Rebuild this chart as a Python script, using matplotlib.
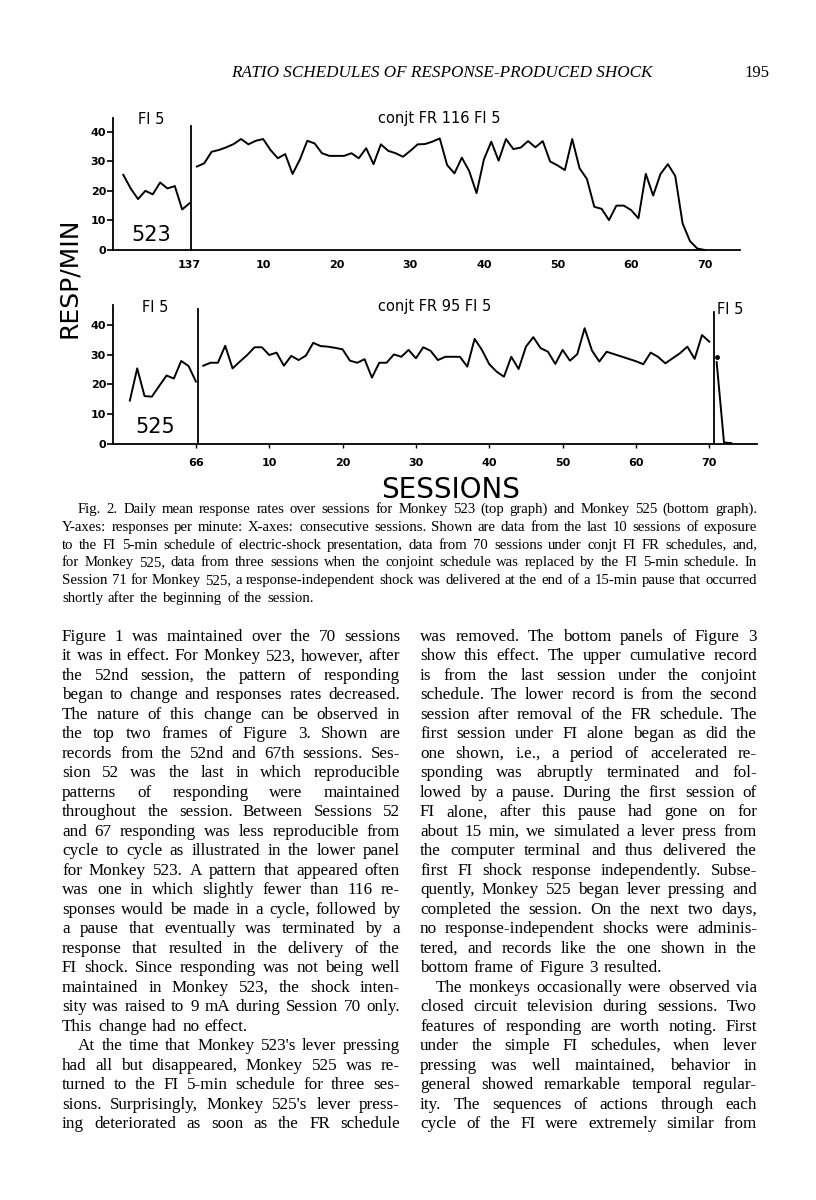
import matplotlib
matplotlib.use('Agg')
import matplotlib.pyplot as plt

W, H = 816, 1200

# ---------------- data ----------------
top_fi_sessions = list(range(-9, 1))
top_fi_rate = [25.4, 20.8, 17.2, 20.0, 18.8, 22.8, 20.8, 21.6, 13.7, 15.8]

conj_sessions = list(range(1, 71))
top_conj_rate = [28.2, 29.3, 33.2, 33.8, 34.7, 35.8, 37.5, 35.7, 36.9, 37.5,
                 33.8, 31.0, 32.4, 25.7, 30.6, 36.9, 36.0, 32.7, 31.8, 31.8,
                 31.8, 32.7, 31.0, 34.4, 29.0, 35.7, 33.5, 32.7, 31.5, 33.5,
                 35.7, 35.8, 36.6, 37.7, 28.7, 25.9, 31.2, 26.7, 19.2, 30.6,
                 36.6, 30.2, 37.5, 34.1, 34.6, 36.8, 34.7, 36.8, 29.9, 28.6,
                 27.0, 37.5, 27.6, 24.0, 14.6, 13.9, 10.1, 15.0, 15.0, 13.5,
                 10.7, 25.7, 18.4, 25.7, 29.0, 25.0, 9.0, 3.0, 0.5, 0.0]

bot_fi_sessions = list(range(-9, 1))
bot_fi_rate = [14.6, 25.4, 16.1, 15.9, 19.5, 23.0, 22.0, 27.9, 26.2, 21.0]

bot_conj_rate = [26.3, 27.3, 27.3, 33.0, 25.4, 27.7, 29.9, 32.5, 32.5, 29.9,
                 30.7, 26.3, 29.6, 28.2, 29.7, 34.0, 32.9, 32.7, 32.3, 31.8,
                 28.0, 27.3, 28.5, 22.3, 27.3, 27.3, 30.1, 29.3, 31.6, 28.8,
                 32.5, 31.3, 28.2, 29.3, 29.3, 29.3, 26.0, 35.3, 31.6, 26.8,
                 24.3, 22.6, 29.3, 25.2, 32.7, 35.9, 32.2, 31.0, 26.9, 31.6,
                 28.0, 30.2, 38.9, 31.4, 27.7, 31.0, 30.2, 29.4, 28.6, 27.8,
                 26.8, 30.7, 29.3, 27.1, 28.8, 30.5, 32.7, 28.6, 36.6, 34.4]

bot_post_sessions = [71, 72, 73]
bot_post_rate = [27.5, 0.5, 0.3]
bot_shock_session = [71]
bot_shock_rate = [29.3]

y_ticks = [0, 10, 20, 30, 40]
y_tick_labels = ['0', '10', '20', '30', '40']
x_ticks = [0, 10, 20, 30, 40, 50, 60, 70]
top_x_labels = ['137', '10', '20', '30', '40', '50', '60', '70']
bot_x_labels = ['66', '10', '20', '30', '40', '50', '60', '70']

# ---------------- figure ----------------
fig = plt.figure(figsize=(W / 100, H / 100), dpi=100)
fig.patch.set_facecolor('white')


def fx(x):
    return x / W


def fy(y):
    return 1 - y / H


SANS = 'DejaVu Sans'
SERIF = 'Liberation Serif'


def style_axes(ax, xlabels, xticklen):
    for s in ['top', 'right']:
        ax.spines[s].set_visible(False)
    for s in ['left', 'bottom']:
        ax.spines[s].set_linewidth(1.3)
    ax.set_yticks(y_ticks)
    ax.set_yticklabels(y_tick_labels, fontsize=8, fontweight='bold', family=SANS)
    ax.set_xticks(x_ticks)
    ax.set_xticklabels(xlabels, fontsize=8, fontweight='bold', family=SANS)
    ax.tick_params(axis='y', length=4.5, width=1.2, pad=0.5)
    ax.tick_params(axis='x', length=xticklen, width=1.0, pad=7)
    ax.patch.set_alpha(0)


# top graph (Monkey 523)
ax1 = fig.add_axes([fx(113), fy(250), fx(740) - fx(113), (250 - 118) / H])
ax1.set_xlim(-10.4, 74.8)
ax1.set_ylim(0, 44.6)
style_axes(ax1, top_x_labels, 0)
ax1.plot(top_fi_sessions, top_fi_rate, color='black', lw=1.4, clip_on=False)
ax1.plot(conj_sessions, top_conj_rate, color='black', lw=1.4, clip_on=False)
top_divider = 0.2
ax1.plot([top_divider, top_divider], [0, 41.9], color='black', lw=1.3, clip_on=False)

# bottom graph (Monkey 525)
ax2 = fig.add_axes([fx(113), fy(444), fx(757) - fx(113), (444 - 305) / H])
ax2.set_xlim(-11.3, 76.5)
ax2.set_ylim(0, 46.7)
style_axes(ax2, bot_x_labels, 3)
ax2.plot(bot_fi_sessions, bot_fi_rate, color='black', lw=1.4, clip_on=False)
ax2.plot(conj_sessions, bot_conj_rate, color='black', lw=1.4, clip_on=False)
ax2.plot(bot_post_sessions, bot_post_rate, color='black', lw=1.4, clip_on=False)
ax2.plot(bot_shock_session, bot_shock_rate, 'o', color='black', ms=2.5, clip_on=False)
bot_dividers = [0.3, 70.6]
bot_divider_tops = [45.3, 44.5]
for d, t in zip(bot_dividers, bot_divider_tops):
    ax2.plot([d, d], [0, t], color='black', lw=1.3, clip_on=False)

# chart labels
fig.text(fx(151), fy(120), 'FI 5', fontsize=10.5, family=SANS, ha='center', va='center')
fig.text(fx(378), fy(118), 'conjt FR 116 FI 5', fontsize=10.5, family=SANS, ha='left', va='center')
fig.text(fx(151), fy(235), '523', fontsize=15, family=SANS, ha='center', va='center')
fig.text(fx(155), fy(307), 'FI 5', fontsize=10.5, family=SANS, ha='center', va='center')
fig.text(fx(378), fy(307), 'conjt FR 95 FI 5', fontsize=10.5, family=SANS, ha='left', va='center')
fig.text(fx(717), fy(309), 'FI 5', fontsize=10.5, family=SANS, ha='left', va='center')
fig.text(fx(155), fy(427), '525', fontsize=15, family=SANS, ha='center', va='center')
fig.text(fx(69), fy(278), 'RESP/MIN', fontsize=18, family=SANS, rotation=90,
         ha='center', va='center')
fig.text(fx(451), fy(490), 'SESSIONS', fontsize=20, family=SANS, ha='center', va='center')

# header
fig.text(fx(442), fy(77), 'RATIO SCHEDULES OF RESPONSE-PRODUCED SHOCK', fontsize=12.3,
         family=SERIF, style='italic', ha='center', va='baseline')
fig.text(fx(757), fy(77), '195', fontsize=12, family=SERIF, ha='center', va='baseline')

# ---------------- justified text ----------------
renderer = fig.canvas.get_renderer()


def measure(s, **kw):
    t = fig.text(0, 0, s, **kw)
    w = t.get_window_extent(renderer).width
    t.remove()
    return w


def put_line(line, x0, x1, y, justify=True, **kw):
    words = line.split()
    widths = [measure(w, **kw) for w in words]
    if justify and len(words) > 1:
        gap = (x1 - x0 - sum(widths)) / (len(words) - 1)
    else:
        gap = 1.3 * (measure('a a', **kw) - measure('aa', **kw))
    x = x0
    for w, wd in zip(words, widths):
        fig.text(fx(x), fy(y), w, ha='left', va='baseline', **kw)
        x += wd + gap


caption_lines = [
    "Fig. 2. Daily mean response rates over sessions for Monkey 523 (top graph) and Monkey 525 (bottom graph).",
    "Y-axes: responses per minute: X-axes: consecutive sessions. Shown are data from the last 10 sessions of exposure",
    "to the FI 5-min schedule of electric-shock presentation, data from 70 sessions under conjt FI FR schedules, and,",
    "for Monkey 525, data from three sessions when the conjoint schedule was replaced by the FI 5-min schedule. In",
    "Session 71 for Monkey 525, a response-independent shock was delivered at the end of a 15-min pause that occurred",
    "shortly after the beginning of the session.",
]
cap_kw = dict(fontsize=10.6, family=SERIF)
for i, line in enumerate(caption_lines):
    x0 = 78 if i == 0 else 62
    put_line(line, x0, 757, 513 + i * 17.8, justify=(i < len(caption_lines) - 1), **cap_kw)

left_col = [
    "Figure 1 was maintained over the 70 sessions",
    "it was in effect. For Monkey 523, however, after",
    "the 52nd session, the pattern of responding",
    "began to change and responses rates decreased.",
    "The nature of this change can be observed in",
    "the top two frames of Figure 3. Shown are",
    "records from the 52nd and 67th sessions. Ses-",
    "sion 52 was the last in which reproducible",
    "patterns of responding were maintained",
    "throughout the session. Between Sessions 52",
    "and 67 responding was less reproducible from",
    "cycle to cycle as illustrated in the lower panel",
    "for Monkey 523. A pattern that appeared often",
    "was one in which slightly fewer than 116 re-",
    "sponses would be made in a cycle, followed by",
    "a pause that eventually was terminated by a",
    "response that resulted in the delivery of the",
    "FI shock. Since responding was not being well",
    "maintained in Monkey 523, the shock inten-",
    "sity was raised to 9 mA during Session 70 only.",
    "This change had no effect.",
    "At the time that Monkey 523's lever pressing",
    "had all but disappeared, Monkey 525 was re-",
    "turned to the FI 5-min schedule for three ses-",
    "sions. Surprisingly, Monkey 525's lever press-",
    "ing deteriorated as soon as the FR schedule",
]
right_col = [
    "was removed. The bottom panels of Figure 3",
    "show this effect. The upper cumulative record",
    "is from the last session under the conjoint",
    "schedule. The lower record is from the second",
    "session after removal of the FR schedule. The",
    "first session under FI alone began as did the",
    "one shown, i.e., a period of accelerated re-",
    "sponding was abruptly terminated and fol-",
    "lowed by a pause. During the first session of",
    "FI alone, after this pause had gone on for",
    "about 15 min, we simulated a lever press from",
    "the computer terminal and thus delivered the",
    "first FI shock response independently. Subse-",
    "quently, Monkey 525 began lever pressing and",
    "completed the session. On the next two days,",
    "no response-independent shocks were adminis-",
    "tered, and records like the one shown in the",
    "bottom frame of Figure 3 resulted.",
    "The monkeys occasionally were observed via",
    "closed circuit television during sessions. Two",
    "features of responding are worth noting. First",
    "under the simple FI schedules, when lever",
    "pressing was well maintained, behavior in",
    "general showed remarkable temporal regular-",
    "ity. The sequences of actions through each",
    "cycle of the FI were extremely similar from",
]
body_kw = dict(fontsize=12.3, family=SERIF)
left_last = {20}
left_indent = {21}
right_last = {17}
right_indent = {18}
for i, line in enumerate(left_col):
    x0 = 78 if i in left_indent else 62
    put_line(line, x0, 400, 641 + i * 19.48, justify=(i not in left_last), **body_kw)
for i, line in enumerate(right_col):
    x0 = 436 if i in right_indent else 420
    put_line(line, x0, 757, 641 + i * 19.48, justify=(i not in right_last), **body_kw)

fig.savefig('out.png', dpi=100, facecolor='white')
